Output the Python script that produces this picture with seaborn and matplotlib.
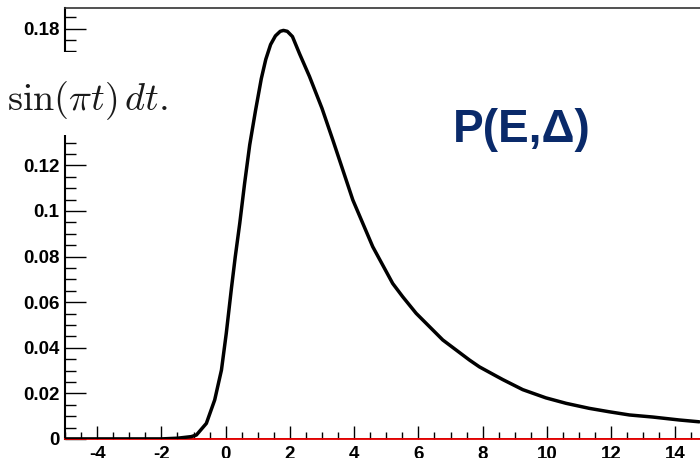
import matplotlib
matplotlib.use("Agg")
import matplotlib.pyplot as plt
import seaborn as sns
import pandas as pd
from matplotlib.patches import Rectangle
from matplotlib.ticker import MultipleLocator, FixedLocator, FixedFormatter

# ---- data ----
energy = [-5.0, -2.0, -1.5, -1.07, -0.91, -0.60, -0.34, -0.13, 0.02, 0.18, 0.30,
          0.44, 0.59, 0.75, 0.93, 1.11, 1.25, 1.40, 1.55, 1.70, 1.80, 1.92, 2.08,
          2.30, 2.61, 3.00, 3.34, 3.96, 4.58, 5.20, 5.51, 5.93, 6.76, 7.59, 7.90,
          8.42, 8.63, 9.25, 9.97, 10.60, 11.32, 11.94, 12.57, 13.29, 14.12, 14.74]
density = [0.0, 0.0, 0.0003, 0.0010, 0.0017, 0.0068, 0.0171, 0.0302, 0.0463, 0.0660,
           0.0799, 0.0946, 0.112, 0.129, 0.144, 0.158, 0.1665, 0.1730, 0.1768, 0.1788,
           0.1792, 0.1788, 0.1765, 0.169, 0.159, 0.145, 0.131, 0.1048, 0.0843, 0.0682,
           0.0624, 0.0551, 0.0434, 0.0346, 0.0316, 0.0276, 0.0260, 0.0216, 0.0180,
           0.0156, 0.0134, 0.0119, 0.0105, 0.0096, 0.0083, 0.0075]
x_ticks = [-4, -2, 0, 2, 4, 6, 8, 10, 12, 14]
x_labels = ["-4", "-2", "0", "2", "4", "6", "8", "10", "12", "14"]
y_ticks = [0, 0.02, 0.04, 0.06, 0.08, 0.1, 0.12, 0.14, 0.16, 0.18]
# 0.14 and 0.16 are hidden behind the formula box in the reference
y_labels = ["0", "0.02", "0.04", "0.06", "0.08", "0.1", "0.12", "", "", "0.18"]
formula_text = r"$\sin(\pi t)\,dt.$"
title_text = "P(E,Δ)"

df = pd.DataFrame({"E": energy, "P": density})

sns.set_style("white")
plt.rcParams["font.family"] = ["Liberation Sans", "DejaVu Sans"]

W, H = 700, 458
fig = plt.figure(figsize=(W / 100, H / 100), dpi=100)
left, right, top, bottom = 65, 707.5, 8.3, 438.9
ax = fig.add_axes([left / W, (H - bottom) / H, (right - left) / W, (bottom - top) / H])

sns.lineplot(data=df, x="E", y="P", ax=ax, color="black", linewidth=2.5,
             solid_joinstyle="round", solid_capstyle="round", zorder=5)

ax.axhline(0, color="#e00000", linewidth=1.3, zorder=3)
ax.set_xlim(-5, 15)
ax.set_ylim(0, 0.1889)
ax.set_xlabel("")
ax.set_ylabel("")

ax.xaxis.set_major_locator(FixedLocator(x_ticks))
ax.xaxis.set_major_formatter(FixedFormatter(x_labels))
ax.xaxis.set_minor_locator(MultipleLocator(0.5))
ax.yaxis.set_major_locator(FixedLocator(y_ticks))
ax.yaxis.set_major_formatter(FixedFormatter(y_labels))
ax.yaxis.set_minor_locator(MultipleLocator(0.005))

ax.tick_params(axis="y", which="major", direction="in", length=15, width=1.0,
               color="black", pad=4, left=True, right=False)
ax.tick_params(axis="y", which="minor", direction="in", length=8, width=1.0,
               color="black", left=True, right=False)
ax.tick_params(axis="x", which="major", direction="in", length=9.5, width=1.0,
               color="black", pad=5, bottom=True, top=False)
ax.tick_params(axis="x", which="minor", direction="in", length=5, width=1.0,
               color="black", bottom=True, top=False)
for lab in ax.get_xticklabels() + ax.get_yticklabels():
    lab.set_fontweight("bold")
    lab.set_fontsize(13.5)
    lab.set_color("black")

for s in ["left", "top", "right", "bottom"]:
    ax.spines[s].set_visible(True)
ax.spines["left"].set_color("black")
ax.spines["left"].set_linewidth(1.5)
ax.spines["top"].set_color("#333333")
ax.spines["top"].set_linewidth(1.2)
ax.spines["bottom"].set_color("#e00000")
ax.spines["bottom"].set_linewidth(1.3)
ax.spines["right"].set_visible(False)

# white box with formula overlaying the y axis
fig.add_artist(Rectangle((0, (H - 135) / H), 200 / W, (135 - 52) / H,
                         transform=fig.transFigure, facecolor="white",
                         edgecolor="none", zorder=20))
fig.text(7 / W, (H - 110) / H, formula_text, fontsize=27.5, color="#1a1a1a",
         math_fontfamily="cm", ha="left", va="baseline", zorder=21)

fig.text(522 / W, (H - 141.7) / H, title_text, fontsize=33, fontweight="bold",
         color="#0a2a6a", ha="center", va="baseline", zorder=21)

fig.savefig("out.png", dpi=100)
